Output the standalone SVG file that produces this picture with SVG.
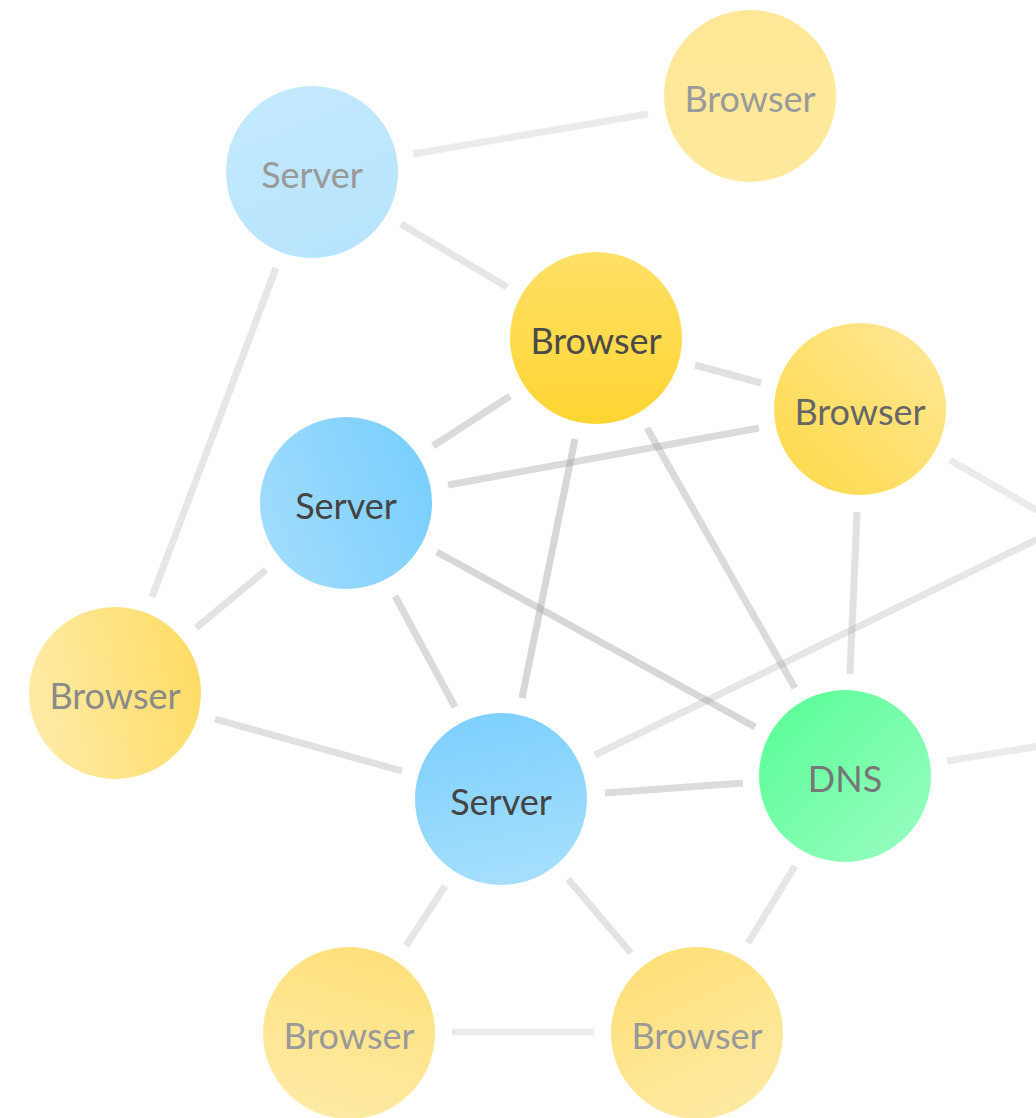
<svg xmlns="http://www.w3.org/2000/svg" width="1036" height="1118" viewBox="0 0 1036 1118">
  <style>
    .edge { stroke: #9a9a9a; stroke-width: 7; fill: none; }
    .label { font-family: Lato, "Noto Sans", "Liberation Sans", sans-serif; font-size: 36px; font-weight: 400; text-anchor: middle; dominant-baseline: central; }
  </style>
  <defs>
    <linearGradient id="gBrowserTR" x1="0" y1="0" x2="0" y2="1"><stop offset="0" stop-color="#fee796"/><stop offset="1" stop-color="#fee99c"/></linearGradient>
    <linearGradient id="gServerTL" x1="0.3" y1="0" x2="0.7" y2="1"><stop offset="0" stop-color="#c3e9fd"/><stop offset="1" stop-color="#b7e4fd"/></linearGradient>
    <linearGradient id="gBrowserC" x1="0" y1="0" x2="0" y2="1"><stop offset="0" stop-color="#ffe067"/><stop offset="1" stop-color="#ffd531"/></linearGradient>
    <linearGradient id="gBrowserR" x1="0" y1="1" x2="1" y2="0"><stop offset="0" stop-color="#ffd946"/><stop offset="1" stop-color="#fee89a"/></linearGradient>
    <linearGradient id="gServerM" x1="1" y1="0.3" x2="0" y2="0.7"><stop offset="0" stop-color="#79cffd"/><stop offset="1" stop-color="#a1dcfd"/></linearGradient>
    <linearGradient id="gBrowserL" x1="1" y1="0" x2="0" y2="0.2"><stop offset="0" stop-color="#fedb60"/><stop offset="1" stop-color="#feeaa2"/></linearGradient>
    <linearGradient id="gServerB" x1="0.4" y1="0" x2="0.6" y2="1"><stop offset="0" stop-color="#7dd0fd"/><stop offset="1" stop-color="#a6dffd"/></linearGradient>
    <linearGradient id="gDNS" x1="0" y1="0" x2="1" y2="1"><stop offset="0" stop-color="#55fd94"/><stop offset="1" stop-color="#9cfdc3"/></linearGradient>
    <linearGradient id="gBrowserBL" x1="0.7" y1="0" x2="0.4" y2="1"><stop offset="0" stop-color="#fee07a"/><stop offset="1" stop-color="#feeaa4"/></linearGradient>
    <linearGradient id="gBrowserB" x1="0.2" y1="0" x2="0.7" y2="1"><stop offset="0" stop-color="#fedf76"/><stop offset="1" stop-color="#feeaa4"/></linearGradient>
  </defs>

  <g id="connectors">
    <line class="edge" x1="413" y1="154" x2="648" y2="114" stroke-opacity="0.2"/>
    <line class="edge" x1="401" y1="224" x2="507" y2="287" stroke-opacity="0.25"/>
    <line class="edge" x1="276" y1="268" x2="152" y2="597" stroke-opacity="0.25"/>
    <line class="edge" x1="695" y1="365" x2="761" y2="383" stroke-opacity="0.3"/>
    <line class="edge" x1="510" y1="396" x2="433" y2="446" stroke-opacity="0.36"/>
    <line class="edge" x1="759" y1="428" x2="448" y2="485" stroke-opacity="0.36"/>
    <line class="edge" x1="575" y1="439" x2="522" y2="698" stroke-opacity="0.4"/>
    <line class="edge" x1="647" y1="428" x2="795" y2="688" stroke-opacity="0.36"/>
    <line class="edge" x1="857" y1="512" x2="850" y2="674" stroke-opacity="0.3"/>
    <line class="edge" x1="950" y1="460" x2="1040" y2="512" stroke-opacity="0.2"/>
    <line class="edge" x1="266" y1="570" x2="196" y2="628" stroke-opacity="0.28"/>
    <line class="edge" x1="395" y1="596" x2="455" y2="707" stroke-opacity="0.36"/>
    <line class="edge" x1="437" y1="552" x2="755" y2="727" stroke-opacity="0.4"/>
    <line class="edge" x1="215" y1="719" x2="402" y2="771" stroke-opacity="0.3"/>
    <line class="edge" x1="605" y1="793" x2="743" y2="783" stroke-opacity="0.35"/>
    <line class="edge" x1="595" y1="755" x2="1040" y2="538" stroke-opacity="0.25"/>
    <line class="edge" x1="947" y1="761" x2="1040" y2="746" stroke-opacity="0.2"/>
    <line class="edge" x1="445" y1="886" x2="406" y2="946" stroke-opacity="0.25"/>
    <line class="edge" x1="568" y1="879" x2="631" y2="953" stroke-opacity="0.28"/>
    <line class="edge" x1="795" y1="866" x2="748" y2="943" stroke-opacity="0.25"/>
    <line class="edge" x1="452" y1="1032" x2="594" y2="1032" stroke-opacity="0.2"/>
  </g>

  <g id="browser-top-right">
    <circle cx="750" cy="96" r="86" fill="url(#gBrowserTR)"/>
    <text class="label" x="750" y="98" fill="#9a9a9a">Browser</text>
  </g>
  <g id="server-top-left">
    <circle cx="312" cy="172" r="86" fill="url(#gServerTL)"/>
    <text class="label" x="312" y="174" fill="#999999">Server</text>
  </g>
  <g id="browser-center">
    <circle cx="596" cy="338" r="86" fill="url(#gBrowserC)"/>
    <text class="label" x="596" y="340" fill="#4a4a4a">Browser</text>
  </g>
  <g id="browser-right">
    <circle cx="860" cy="409" r="86" fill="url(#gBrowserR)"/>
    <text class="label" x="860" y="411" fill="#666666">Browser</text>
  </g>
  <g id="server-middle">
    <circle cx="346" cy="503" r="86" fill="url(#gServerM)"/>
    <text class="label" x="346" y="505" fill="#444444">Server</text>
  </g>
  <g id="browser-left">
    <circle cx="115" cy="693" r="86" fill="url(#gBrowserL)"/>
    <text class="label" x="115" y="695" fill="#8a8a8a">Browser</text>
  </g>
  <g id="server-bottom">
    <circle cx="501" cy="799" r="86" fill="url(#gServerB)"/>
    <text class="label" x="501" y="801" fill="#444444">Server</text>
  </g>
  <g id="dns">
    <circle cx="845" cy="776" r="86" fill="url(#gDNS)"/>
    <text class="label" x="845" y="778" fill="#777777">DNS</text>
  </g>
  <g id="browser-bottom-left">
    <circle cx="349" cy="1033" r="86" fill="url(#gBrowserBL)"/>
    <text class="label" x="349" y="1035" fill="#999999">Browser</text>
  </g>
  <g id="browser-bottom">
    <circle cx="697" cy="1033" r="86" fill="url(#gBrowserB)"/>
    <text class="label" x="697" y="1035" fill="#999999">Browser</text>
  </g>
</svg>
